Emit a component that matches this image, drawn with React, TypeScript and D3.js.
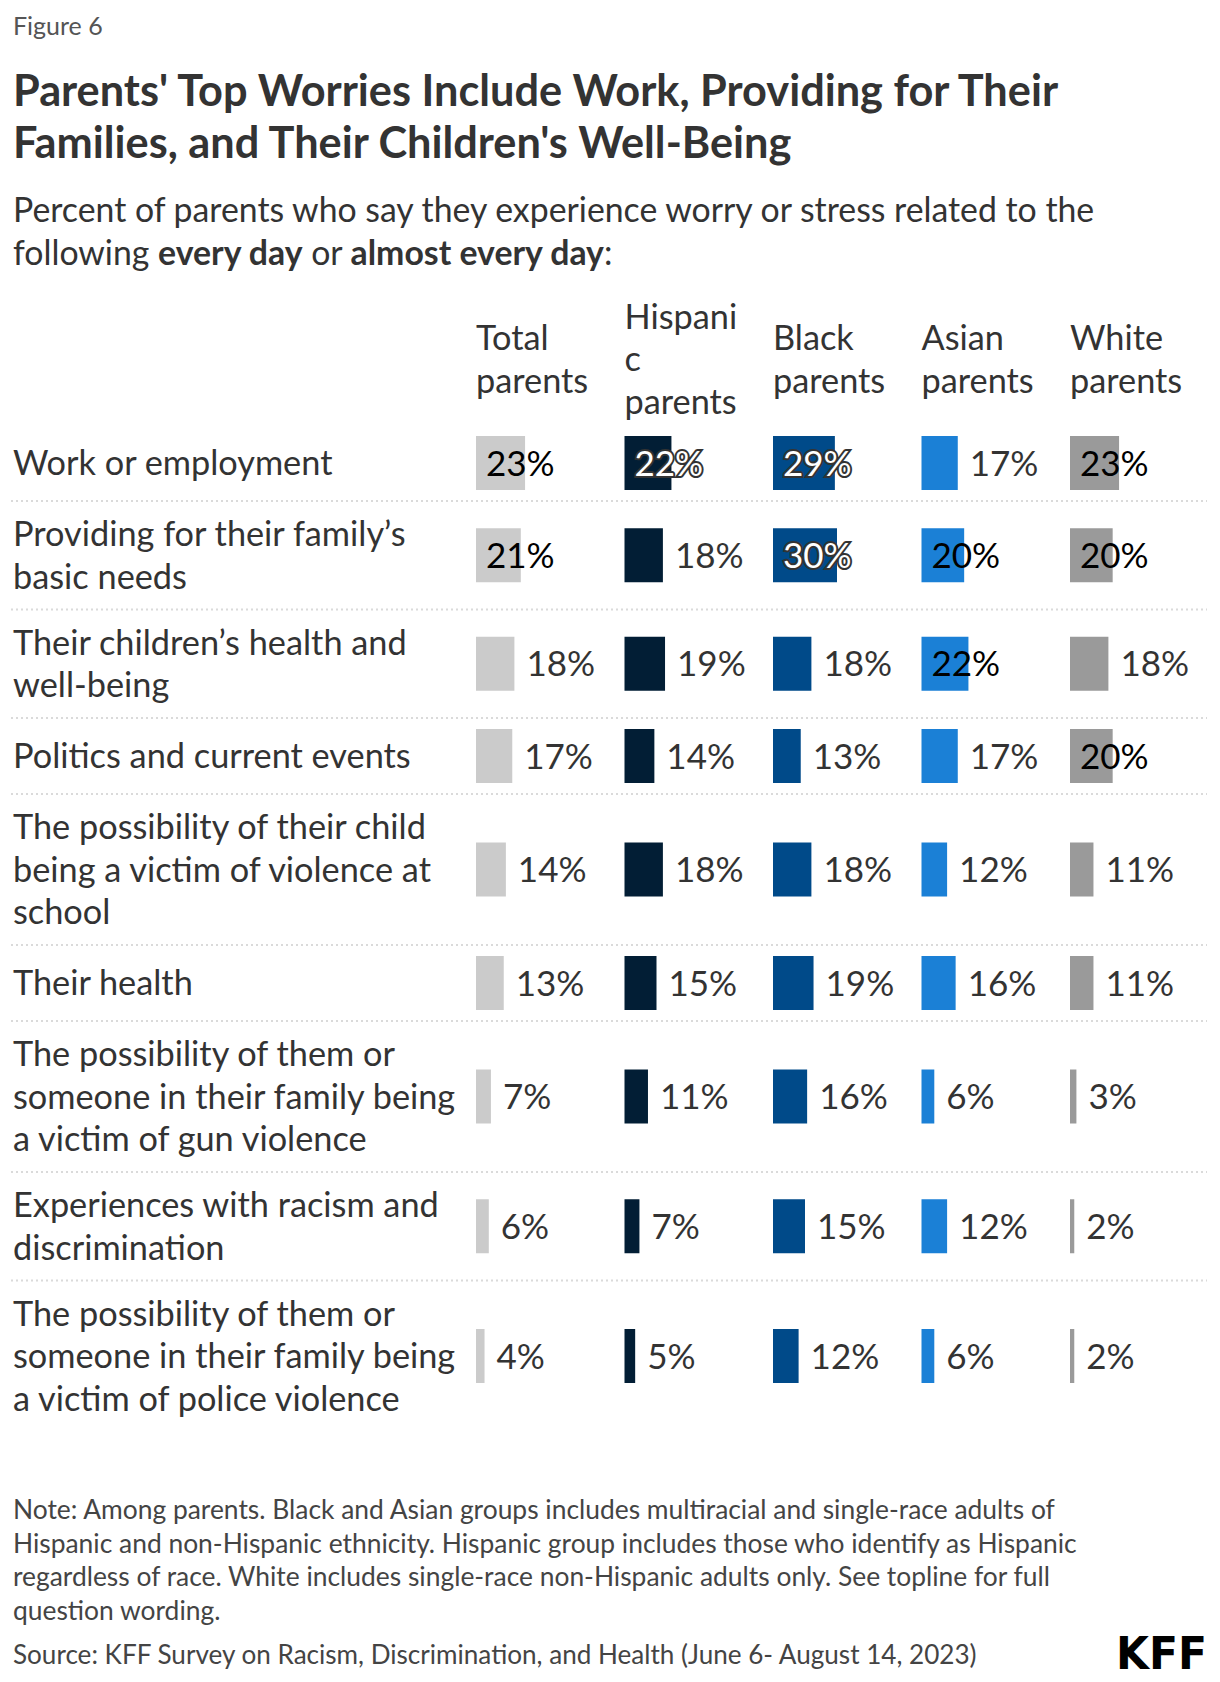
import React, { useLayoutEffect } from "react";
import * as d3 from "d3";

const groups = ["Total parents", "Hispanic parents", "Black parents", "Asian parents", "White parents"];
const headerLines = [["Total", "parents"], ["Hispani", "c", "parents"], ["Black", "parents"], ["Asian", "parents"], ["White", "parents"]];
const groupColors = ["#cbcbcb", "#021e35", "#004a89", "#1b80d6", "#9a9a9a"];
const darkGroups = [false, true, true, false, false];

const categories = [
  ["Work or employment"],
  ["Providing for their family’s", "basic needs"],
  ["Their children’s health and", "well-being"],
  ["Politics and current events"],
  ["The possibility of their child", "being a victim of violence at", "school"],
  ["Their health"],
  ["The possibility of them or", "someone in their family being", "a victim of gun violence"],
  ["Experiences with racism and", "discrimination"],
  ["The possibility of them or", "someone in their family being", "a victim of police violence"],
];

const totalVals = [23, 21, 18, 17, 14, 13, 7, 6, 4];
const hispanicVals = [22, 18, 19, 14, 18, 15, 11, 7, 5];
const blackVals = [29, 30, 18, 13, 18, 19, 16, 15, 12];
const asianVals = [17, 20, 22, 17, 12, 16, 6, 12, 6];
const whiteVals = [23, 20, 18, 20, 11, 11, 3, 2, 2];
const seriesVals = [totalVals, hispanicVals, blackVals, asianVals, whiteVals];

const noteLines = [
  "Note: Among parents. Black and Asian groups includes multiracial and single-race adults of",
  "Hispanic and non-Hispanic ethnicity. Hispanic group includes those who identify as Hispanic",
  "regardless of race. White includes single-race non-Hispanic adults only. See topline for full",
  "question wording.",
];
const sourceLine = "Source: KFF Survey on Racism, Discrimination, and Health (June 6- August 14, 2023)";

const FONT = "Lato, 'Source Sans Pro', 'Noto Sans', sans-serif";

export default function App() {
  useLayoutEffect(() => {
    document.body.style.margin = "0";
  }, []);

  const W = 1220, H = 1682;
  const lh = 42.5;
  const rowHeights = categories.map((c) => Math.max(c.length * lh + 23.5, 76));
  const rowTop0 = 425;
  const cum = Array.from(d3.cumsum(rowHeights));
  const rowTops = rowHeights.map((h, i) => rowTop0 + (i === 0 ? 0 : cum[i - 1]));

  const xCol = d3.scaleBand<string>().domain(groups).range([476, 476 + 5 * 148.5]).paddingInner(0).paddingOuter(0).align(0);
  const xBar = d3.scaleLinear().domain([0, 30]).range([0, 64]);
  const barH = 54;
  const labelFs = 34.3;
  const valueFs = 35;

  return (
    <svg width={W} height={H} style={{ display: "block", background: "#fff", fontFamily: FONT }}>
      <text x={13} y={35} fontSize={25} fill="#555">Figure 6</text>
      <text x={13} y={106} fontSize={43.3} fontWeight={700} fill="#333">Parents' Top Worries Include Work, Providing for Their</text>
      <text x={13} y={158} fontSize={43.3} fontWeight={700} fill="#333">Families, and Their Children's Well-Being</text>
      <text x={13} y={222} fontSize={33.8} fill="#333">Percent of parents who say they experience worry or stress related to the</text>
      <text x={13} y={265} fontSize={33.8} fill="#333">
        following <tspan fontWeight={700}>every day</tspan> or <tspan fontWeight={700}>almost every day</tspan>:
      </text>

      {headerLines.map((lines, gi) => {
        const cy = 359;
        const x = xCol(groups[gi])!;
        return lines.map((ln, li) => (
          <text key={`h${gi}-${li}`} x={x} y={cy - (lines.length * lh) / 2 + lh * (li + 0.5) + 12.3} fontSize={labelFs} fill="#333">{ln}</text>
        ));
      })}

      {categories.map((lines, ri) => {
        const top = rowTops[ri];
        const h = rowHeights[ri];
        const cy = top + h / 2;
        return (
          <g key={`r${ri}`}>
            {ri < categories.length - 1 && (
              <line x1={11} x2={1207} y1={top + h} y2={top + h} stroke="#dadada" strokeWidth={2} strokeDasharray="2,3" />
            )}
            {lines.map((ln, li) => (
              <text key={li} x={13} y={cy - (lines.length * lh) / 2 + lh * (li + 0.5) + 12.3} fontSize={labelFs} fill="#333">{ln}</text>
            ))}
            {groups.map((g, gi) => {
              const v = seriesVals[gi][ri];
              const x0 = xCol(g)!;
              const bw = xBar(v);
              const inside = v >= 20;
              const tx = inside ? x0 + 10 : x0 + bw + 12;
              const dark = darkGroups[gi];
              return (
                <g key={g}>
                  <rect x={x0} y={cy - barH / 2} width={bw} height={barH} fill={groupColors[gi]} />
                  <text
                    x={tx}
                    y={cy + 12.5}
                    fontSize={valueFs}
                    fill={inside ? (dark ? "#fff" : "#000") : "#333"}
                    stroke={inside && dark ? "#333" : "none"}
                    strokeWidth={inside && dark ? 4 : 0}
                    style={{ paintOrder: "stroke" }}
                  >{`${v}%`}</text>
                </g>
              );
            })}
          </g>
        );
      })}

      {noteLines.map((ln, i) => (
        <text key={`n${i}`} x={13} y={1519 + i * 33.7} fontSize={26.4} fill="#444">{ln}</text>
      ))}
      <text x={13} y={1664} fontSize={26.1} fill="#444">{sourceLine}</text>
      <text x={1116} y={1669} fontSize={44} fontWeight={900} fill="#000" textLength={91} lengthAdjust="spacingAndGlyphs" fontFamily="'DejaVu Sans', sans-serif">KFF</text>
    </svg>
  );
}
